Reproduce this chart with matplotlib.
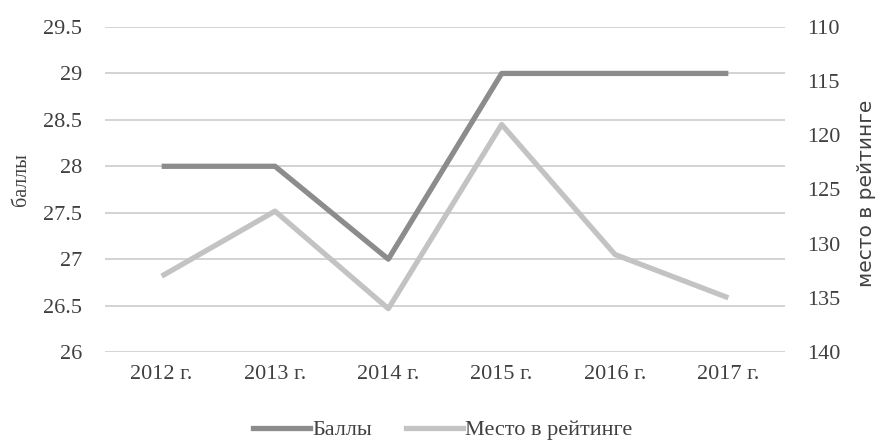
import matplotlib
matplotlib.use("Agg")
import matplotlib.pyplot as plt
from matplotlib.lines import Line2D

years = ["2012 г.", "2013 г.", "2014 г.", "2015 г.", "2016 г.", "2017 г."]
scores = [28, 28, 27, 29, 29, 29]
ranks = [133, 127, 136, 119, 131, 135]
left_ticks = [26, 26.5, 27, 27.5, 28, 28.5, 29, 29.5]
left_labels = ["26", "26.5", "27", "27.5", "28", "28.5", "29", "29.5"]
right_ticks = [110, 115, 120, 125, 130, 135, 140]

plt.rcParams['font.family'] = ['Liberation Serif', 'DejaVu Serif']
TXT = "#404040"
FS = 16

fig = plt.figure(figsize=(8.79, 4.45), dpi=100)
ax = fig.add_axes([105/879, 1-352/445, 680/879, 325/445])
ax2 = ax.twinx()

x = list(range(len(years)))
for y in left_ticks:
    ax.axhline(y, color="#d0d0d0", lw=1.3, zorder=0)

ax.plot(x, scores, color="#8c8c8c", lw=3.8, solid_capstyle="butt", zorder=3)
ax2.plot(x, ranks, color="#c3c3c3", lw=3.8, solid_capstyle="butt", zorder=3)

ax.set_xlim(-0.5, 5.5)
ax.set_ylim(26, 29.5)
ax2.set_ylim(140, 110)
ax.set_yticks(left_ticks)
ax.set_yticklabels(left_labels)
ax2.set_yticks(right_ticks)
ax.set_xticks(x)
ax.set_xticklabels(years)

for a in (ax, ax2):
    for s in a.spines.values():
        s.set_visible(False)
    a.tick_params(length=0, labelsize=FS, colors=TXT)
ax.tick_params(axis="y", pad=16.5)
ax.tick_params(axis="x", pad=9.5)
ax2.tick_params(axis="y", pad=16)

ax.set_ylabel("баллы", fontsize=14.5, color=TXT)
ax.yaxis.set_label_coords((31-105)/680, (352-180)/325)
ax2.set_ylabel("место в рейтинге", fontsize=14.5, color=TXT,
               family=['DejaVu Sans'])
ax2.yaxis.set_label_coords((857-105)/680, (352-193)/325)

handles = [Line2D([], [], color="#8c8c8c", lw=3.8),
           Line2D([], [], color="#c3c3c3", lw=3.8)]
fig.legend(handles, ["Баллы", "Место в рейтинге"], loc="center",
           bbox_to_anchor=(443/879, 1-430/445), ncol=2, frameon=False,
           fontsize=FS, handlelength=2.55, handletextpad=0.1, columnspacing=1.55,
           labelcolor=TXT, borderpad=0)

fig.savefig("out.png", dpi=100)
